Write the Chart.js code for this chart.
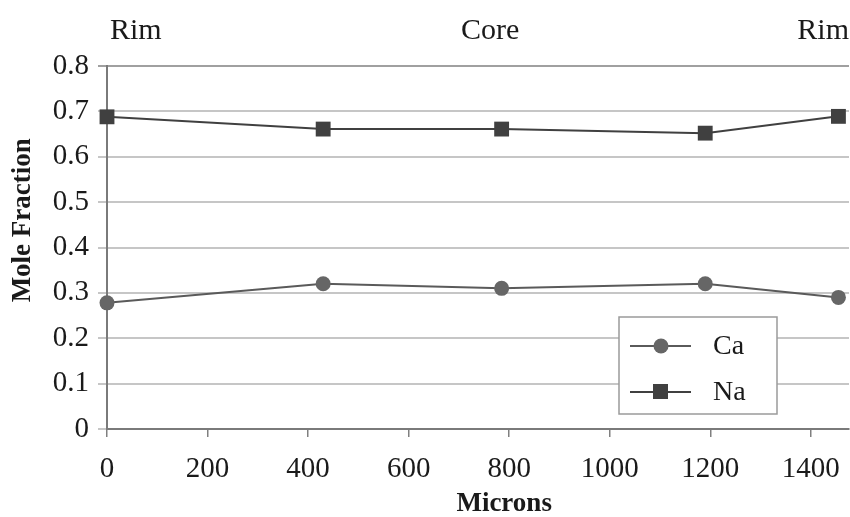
<!DOCTYPE html>
<html>
<head>
<meta charset="utf-8">
<script src="https://cdn.jsdelivr.net/npm/chart.js@4/dist/chart.umd.min.js"></script>
<style>
  html, body { margin: 0; padding: 0; background: #fff; }
  #wrap { width: 850px; height: 517px; }
</style>
</head>
<body>
<div id="wrap"><canvas id="chart" width="850" height="517"></canvas></div>
<script>
// data
var microns = [0, 430, 785, 1190, 1455];
var caValues = [0.278, 0.32, 0.31, 0.32, 0.29];
var naValues = [0.688, 0.661, 0.661, 0.652, 0.689];
var xTickValues = [0, 200, 400, 600, 800, 1000, 1200, 1400];
var zoneLabels = ['Rim', 'Core', 'Rim'];

var SERIF = '"Liberation Serif", "Times New Roman", serif';
var INK = '#1a1a1a';

var toPoints = function(xs, ys) {
    var pts = [];
    for (var i = 0; i < xs.length; i++) {
        pts.push({x: xs[i], y: ys[i]});
    }
    return pts;
};

// Rim / Core / Rim above the plot, and the two axis titles
var textPlugin = {
    id: 'texts',
    afterDraw: function(chart) {
        var ctx = chart.ctx;
        var area = chart.chartArea;
        var xs = chart.scales.x;
        var ys = chart.scales.y;
        ctx.save();
        ctx.fillStyle = INK;
        ctx.font = '30px ' + SERIF;
        ctx.textBaseline = 'alphabetic';
        ctx.textAlign = 'left';
        ctx.fillText(zoneLabels[0], area.left + 3, 39);
        ctx.textAlign = 'center';
        ctx.fillText(zoneLabels[1], xs.getPixelForValue(762), 39);
        ctx.textAlign = 'right';
        ctx.fillText(zoneLabels[2], area.right, 39);

        ctx.font = 'bold 27px ' + SERIF;
        ctx.textAlign = 'center';
        ctx.textBaseline = 'middle';
        ctx.fillText('Microns', xs.getPixelForValue(790), 504);
        ctx.translate(23, ys.getPixelForValue(0.46));
        ctx.rotate(-Math.PI / 2);
        ctx.fillText('Mole Fraction', 0, 0);
        ctx.restore();
    }
};

// legend box inside the plot, lower right
var legendPlugin = {
    id: 'boxLegend',
    afterDraw: function(chart) {
        var ctx = chart.ctx;
        var bx = 619, by = 317, bw = 158, bh = 97;
        ctx.save();
        ctx.fillStyle = '#fff';
        ctx.fillRect(bx, by, bw, bh);
        ctx.strokeStyle = '#9a9a9a';
        ctx.lineWidth = 1.5;
        ctx.strokeRect(bx, by, bw, bh);
        chart.data.datasets.forEach(function(ds, i) {
            var cy = by + 29 + i * 46;
            ctx.strokeStyle = ds.borderColor;
            ctx.lineWidth = 2;
            ctx.beginPath();
            ctx.moveTo(bx + 11, cy);
            ctx.lineTo(bx + 72, cy);
            ctx.stroke();
            ctx.fillStyle = ds.pointBackgroundColor;
            if (ds.pointStyle === 'rect') {
                ctx.fillRect(bx + 34, cy - 8, 15, 15);
            } else {
                ctx.beginPath();
                ctx.arc(bx + 42, cy, 7.5, 0, Math.PI * 2);
                ctx.fill();
            }
            ctx.fillStyle = INK;
            ctx.font = '28px ' + SERIF;
            ctx.textAlign = 'left';
            ctx.textBaseline = 'middle';
            ctx.fillText(ds.label, bx + 94, cy + 1);
        });
        ctx.restore();
    }
};

var ctx = document.getElementById('chart').getContext('2d');
var myChart = new Chart(ctx, {
    type: 'line',
    data: {
        datasets: [{
            label: 'Ca',
            data: toPoints(microns, caValues),
            borderColor: '#5a5a5a',
            borderWidth: 2,
            pointStyle: 'circle',
            pointRadius: 7.5,
            pointBackgroundColor: '#666666',
            pointBorderColor: '#666666',
            pointBorderWidth: 0,
            clip: false
        }, {
            label: 'Na',
            data: toPoints(microns, naValues),
            borderColor: '#404040',
            borderWidth: 2,
            pointStyle: 'rect',
            pointRadius: 10.5,
            pointBackgroundColor: '#404040',
            pointBorderColor: '#404040',
            pointBorderWidth: 0,
            clip: false
        }]
    },
    options: {
        responsive: false,
        animation: false,
        layout: { autoPadding: false, padding: { top: 66, right: 1, left: 0, bottom: 0 } },
        plugins: {
            legend: { display: false },
            tooltip: { enabled: false }
        },
        scales: {
            x: {
                type: 'linear',
                min: 0,
                max: 1476,
                afterBuildTicks: function(scale) {
                    scale.ticks = xTickValues.map(function(v) { return {value: v}; });
                },
                afterFit: function(scale) {
                    scale.height = 88;
                    scale.paddingLeft = 0;
                    scale.paddingRight = 0;
                },
                ticks: {
                    autoSkip: false,
                    maxRotation: 0,
                    padding: 15,
                    color: INK,
                    font: { family: SERIF, size: 29 },
                    callback: function(v) { return String(v); }
                },
                grid: {
                    drawOnChartArea: false,
                    drawTicks: true,
                    tickLength: 8,
                    color: '#808080',
                    lineWidth: 1.5
                },
                border: { color: '#7a7a7a', width: 2 }
            },
            y: {
                min: 0,
                max: 0.8,
                afterFit: function(scale) { scale.width = 107; },
                ticks: {
                    stepSize: 0.1,
                    padding: 9,
                    color: INK,
                    font: { family: SERIF, size: 29 },
                    callback: function(v) { return v === 0 ? '0' : v.toFixed(1); }
                },
                grid: {
                    color: function(c) { return c.tick && c.tick.value === 0.8 ? '#a0a0a0' : '#c6c6c6'; },
                    lineWidth: 2,
                    tickLength: 9
                },
                border: { color: '#7a7a7a', width: 2 }
            }
        }
    },
    plugins: [textPlugin, legendPlugin]
});
</script>
</body>
</html>
